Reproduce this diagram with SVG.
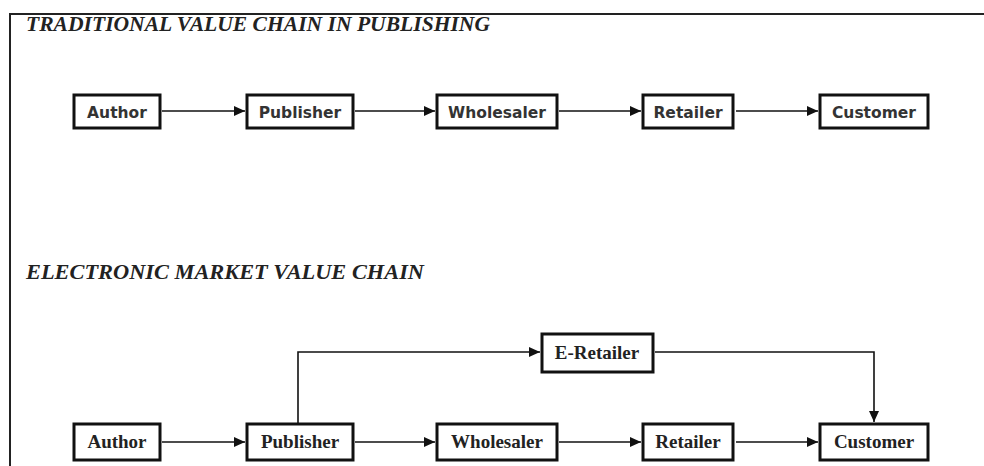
<svg xmlns="http://www.w3.org/2000/svg" width="984" height="466" viewBox="0 0 984 466">
<defs>
<marker id="ah" viewBox="0 0 11 10" refX="11" refY="5" markerWidth="11" markerHeight="10" markerUnits="userSpaceOnUse" orient="auto">
<path d="M0,0 L11,5 L0,10 Z" fill="#111"/>
</marker>
<style>
.box{fill:#fff;stroke:#111;stroke-width:3}
.t1{font-family:"DejaVu Sans","Liberation Sans",sans-serif;font-weight:bold;font-size:15.5px;fill:#333;text-anchor:middle}
.t2{font-family:"Liberation Serif",serif;font-weight:bold;font-size:19px;fill:#222;text-anchor:middle}
.title{font-family:"Liberation Serif",serif;font-weight:bold;font-style:italic;font-size:21px;fill:#222}
.conn{fill:none;stroke:#111;stroke-width:1.6}
</style>
</defs>
<rect width="984" height="466" fill="#fff"/>
<path d="M10,466 V14 H984" fill="none" stroke="#222" stroke-width="2"/>
<text class="title" x="26" y="31" textLength="464" lengthAdjust="spacingAndGlyphs">TRADITIONAL VALUE CHAIN IN PUBLISHING</text>
<text class="title" x="26" y="279" textLength="398" lengthAdjust="spacingAndGlyphs">ELECTRONIC MARKET VALUE CHAIN</text>

<g id="connectors">
<line class="conn" x1="162" y1="111" x2="245" y2="111" marker-end="url(#ah)"/>
<line class="conn" x1="355" y1="111" x2="435" y2="111" marker-end="url(#ah)"/>
<line class="conn" x1="559" y1="111" x2="641" y2="111" marker-end="url(#ah)"/>
<line class="conn" x1="736" y1="111" x2="818" y2="111" marker-end="url(#ah)"/>

<line class="conn" x1="162" y1="442" x2="245" y2="442" marker-end="url(#ah)"/>
<line class="conn" x1="355" y1="442" x2="435" y2="442" marker-end="url(#ah)"/>
<line class="conn" x1="559" y1="442" x2="641" y2="442" marker-end="url(#ah)"/>
<line class="conn" x1="736" y1="442" x2="818" y2="442" marker-end="url(#ah)"/>
<polyline class="conn" points="298,423 298,352 540,352" marker-end="url(#ah)"/>
<polyline class="conn" points="655,352 874,352 874,422" marker-end="url(#ah)"/>
</g>

<g id="t-author"><rect class="box" x="74" y="95" width="86" height="33"/><text class="t1" x="117" y="118">Author</text></g>
<g id="t-publisher"><rect class="box" x="247" y="95" width="106" height="33"/><text class="t1" x="300" y="118">Publisher</text></g>
<g id="t-wholesaler"><rect class="box" x="437" y="95" width="120" height="33"/><text class="t1" x="497" y="118">Wholesaler</text></g>
<g id="t-retailer"><rect class="box" x="643" y="95" width="90" height="33"/><text class="t1" x="688" y="118">Retailer</text></g>
<g id="t-customer"><rect class="box" x="820" y="95" width="108" height="33"/><text class="t1" x="874" y="118">Customer</text></g>

<g id="e-eretailer"><rect class="box" x="542" y="334" width="111" height="38"/><text class="t2" x="597" y="359">E-Retailer</text></g>
<g id="e-author"><rect class="box" x="74" y="424" width="86" height="36"/><text class="t2" x="117" y="448">Author</text></g>
<g id="e-publisher"><rect class="box" x="247" y="424" width="106" height="36"/><text class="t2" x="300" y="448">Publisher</text></g>
<g id="e-wholesaler"><rect class="box" x="437" y="424" width="120" height="36"/><text class="t2" x="497" y="448">Wholesaler</text></g>
<g id="e-retailer"><rect class="box" x="643" y="424" width="90" height="36"/><text class="t2" x="688" y="448">Retailer</text></g>
<g id="e-customer"><rect class="box" x="820" y="424" width="108" height="36"/><text class="t2" x="874" y="448">Customer</text></g>
</svg>
